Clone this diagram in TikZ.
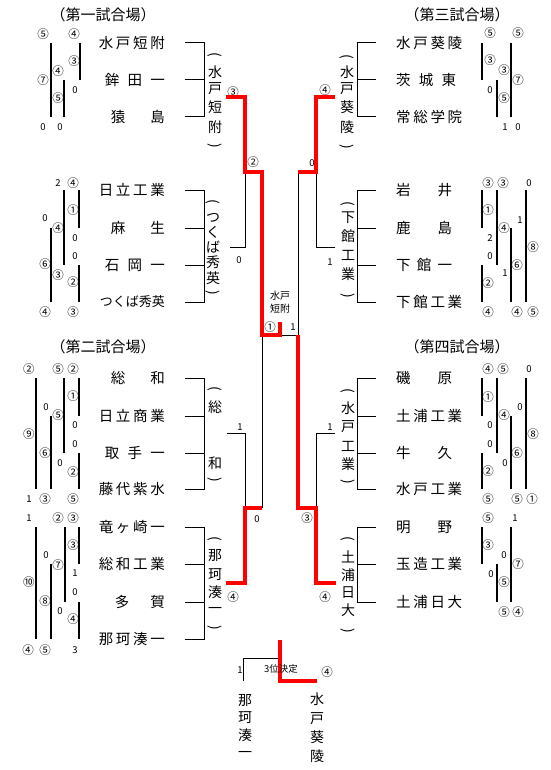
\documentclass[tikz,border=0pt]{standalone}
\usepackage{fontspec}
\setmainfont{Noto Sans CJK JP}
\usetikzlibrary{positioning, calc}

\newcommand\spreadname[2][66pt]{\makebox[#1][s]{\spreadloop#2\relax}}
\def\spreadloop#1#2{#1\ifx\relax#2\else\hfill\expandafter\spreadloop\expandafter#2\fi}

\begin{document}
\begin{tikzpicture}[x=1pt, y=-1pt,
  lteam/.style={anchor=east, inner sep=0pt, font=\fontsize{14.5}{15}\selectfont},
  rteam/.style={anchor=west, inner sep=0pt, font=\fontsize{14.5}{15}\selectfont},
  venue/.style={inner sep=0pt, font=\fontsize{15}{16}\selectfont},
  vchar/.style={inner sep=0pt, font=\fontsize{14}{14}\selectfont},
  vparen/.style={inner sep=0pt, rotate=-90, font=\fontsize{14}{14}\selectfont},
  circ/.style={inner sep=0pt, font=\fontsize{11.5}{12}\selectfont},
  pts/.style={inner sep=0pt, font=\fontsize{9.5}{10}\selectfont},
  brk/.style={line width=1pt},
  sline/.style={line width=1.2pt},
  win/.style={draw=red, line width=3.5pt}
]
\useasboundingbox (0,0) rectangle (550,770);

% venues
\node[venue] (v1) at (103,15) {（第一試合場）};
\node[venue] (v3) at (457,15) {（第三試合場）};
\node[venue] (v2) at (103,347) {（第二試合場）};
\node[venue] (v4) at (457,347) {（第四試合場）};

% teams, left side
\node[lteam] (a1) at (165,43) {\spreadname{水戸短附}};
\node[lteam] (a2) at (165,80) {\spreadname[60pt]{鉾田一}};
\node[lteam] (a3) at (165,117) {\spreadname[54pt]{猿島}};
\node[lteam] (b1) at (165,190) {\spreadname{日立工業}};
\node[lteam] (b2) at (165,228) {\spreadname[54pt]{麻生}};
\node[lteam] (b3) at (165,265) {\spreadname[60pt]{石岡一}};
\node[lteam, font=\fontsize{13}{13}\selectfont] (b4) at (165,302) {つくば秀英};
\node[lteam] (e1) at (165,378) {\spreadname[54pt]{総和}};
\node[lteam] (e2) at (165,416) {\spreadname{日立商業}};
\node[lteam] (e3) at (165,453) {\spreadname[60pt]{取手一}};
\node[lteam] (e4) at (165,489) {\spreadname{藤代紫水}};
\node[lteam] (f1) at (165,527) {\spreadname{竜ヶ崎一}};
\node[lteam] (f2) at (165,564) {\spreadname{総和工業}};
\node[lteam] (f3) at (165,602) {\spreadname[50pt]{多賀}};
\node[lteam] (f4) at (165,639) {\spreadname{那珂湊一}};

% teams, right side
\node[rteam] (c1) at (396,43) {\spreadname{水戸葵陵}};
\node[rteam] (c2) at (396,80) {\spreadname[60pt]{茨城東}};
\node[rteam] (c3) at (396,117) {\spreadname{常総学院}};
\node[rteam] (d1) at (396,190) {\spreadname[56pt]{岩井}};
\node[rteam] (d2) at (396,228) {\spreadname[56pt]{鹿島}};
\node[rteam] (d3) at (396,265) {\spreadname[56pt]{下館一}};
\node[rteam] (d4) at (396,302) {\spreadname{下館工業}};
\node[rteam] (g1) at (396,378) {\spreadname[56pt]{磯原}};
\node[rteam] (g2) at (396,416) {\spreadname{土浦工業}};
\node[rteam] (g3) at (396,453) {\spreadname[56pt]{牛久}};
\node[rteam] (g4) at (396,489) {\spreadname{水戸工業}};
\node[rteam] (h1) at (396,527) {\spreadname[56pt]{明野}};
\node[rteam] (h2) at (396,564) {\spreadname{玉造工業}};
\node[rteam] (h3) at (396,602) {\spreadname{土浦日大}};

% block brackets
\draw[brk] ([xshift=20pt]a1.east) -| ([xshift=39pt]a3.east) -- ([xshift=20pt]a3.east);
\draw[brk] ([xshift=20pt]a2.east) -- ([xshift=39pt]a2.east);
\draw[brk] ([xshift=20pt]b1.east) -| ([xshift=39pt]b4.east) -- ([xshift=20pt]b4.east);
\draw[brk] ([xshift=20pt]b2.east) -- ([xshift=39pt]b2.east);
\draw[brk] ([xshift=20pt]b3.east) -- ([xshift=39pt]b3.east);
\draw[brk] ([xshift=20pt]e1.east) -| ([xshift=39pt]e4.east) -- ([xshift=20pt]e4.east);
\draw[brk] ([xshift=20pt]e2.east) -- ([xshift=39pt]e2.east);
\draw[brk] ([xshift=20pt]e3.east) -- ([xshift=39pt]e3.east);
\draw[brk] ([xshift=20pt]f1.east) -| ([xshift=39pt]f4.east) -- ([xshift=20pt]f4.east);
\draw[brk] ([xshift=20pt]f2.east) -- ([xshift=39pt]f2.east);
\draw[brk] ([xshift=20pt]f3.east) -- ([xshift=39pt]f3.east);
\draw[brk] ([xshift=-20pt]c1.west) -| ([xshift=-39pt]c3.west) -- ([xshift=-20pt]c3.west);
\draw[brk] ([xshift=-20pt]c2.west) -- ([xshift=-39pt]c2.west);
\draw[brk] ([xshift=-20pt]d1.west) -| ([xshift=-39pt]d4.west) -- ([xshift=-20pt]d4.west);
\draw[brk] ([xshift=-20pt]d2.west) -- ([xshift=-39pt]d2.west);
\draw[brk] ([xshift=-20pt]d3.west) -- ([xshift=-39pt]d3.west);
\draw[brk] ([xshift=-20pt]g1.west) -| ([xshift=-39pt]g4.west) -- ([xshift=-20pt]g4.west);
\draw[brk] ([xshift=-20pt]g2.west) -- ([xshift=-39pt]g2.west);
\draw[brk] ([xshift=-20pt]g3.west) -- ([xshift=-39pt]g3.west);
\draw[brk] ([xshift=-20pt]h1.west) -| ([xshift=-39pt]h3.west) -- ([xshift=-20pt]h3.west);
\draw[brk] ([xshift=-20pt]h2.west) -- ([xshift=-39pt]h2.west);

% block winners, written downwards
\foreach \x/\y/\s [count=\i] in {215/72/水, 215/89/戸, 215/107/短, 215/127/附,
    213/218/つ, 213/232/く, 213/247/ば, 213/262/秀, 213/278/英,
    215/407/総, 215/463/和,
    215/556/那, 215/575/珂, 215/592/湊, 215/610/一,
    347/72/水, 347/89/戸, 347/107/葵, 347/127/陵,
    348/218/下, 348/236/館, 348/255/工, 348/274/業,
    348/408/水, 348/427/戸, 348/446/工, 348/464/業,
    348/557/土, 348/575/浦, 348/593/日, 348/610/大}
  \node[vchar] (vl\i) at (\x,\y) {\s};
\foreach \x/\y/\s [count=\i] in {215/55/(, 215/146/), 213/202/(, 213/293/), 215/389/(, 215/480/),
    215/539/(, 215/628/), 347/57/(, 347/147/), 348/204/(, 348/296/), 348/391/(, 348/482/),
    348/539/(, 348/631/)}
  \node[vparen] (vp\i) at (\x,\y) {\s};

% score lines of the blocks
\foreach \x/\ya/\yb in {51/43/117, 64/80/117, 80/43/80,
    79/190/228, 79/265/302, 64/190/265, 51/228/302,
    79/378/416, 79/453/489, 64/378/453, 51/416/489, 36/378/489,
    79/527/564, 79/602/639, 65/527/602, 51/564/639, 36/527/639,
    482/43/80, 497/80/117, 511/43/117,
    482/190/228, 482/265/302, 497/190/265, 511/228/302, 526/190/302,
    482/378/416, 482/453/489, 497/378/453, 511/416/489, 526/378/489,
    482/527/564, 497/564/602, 511/527/602}
  \draw[sline] (\x,\ya) -- (\x,\yb);

% circled scores
\foreach \x/\y/\s [count=\i] in {43/34/⑤, 74/34/④, 74/61/③, 58/71/④, 43/80/⑦, 58/98/⑤,
    73/183/④, 73/210/①, 58/228/④, 45/264/⑥, 58/275/③, 73/282/②, 45/312/④, 73/312/③,
    29/369/②, 58/369/⑤, 73/369/②, 73/396/①, 58/415/⑤, 29/434/⑨, 45/453/⑥, 73/472/②, 45/499/③, 73/499/⑤,
    58/518/②, 73/518/③, 73/545/③, 58/565/⑦, 29/582/⑩, 45/601/⑧, 73/619/④, 28/650/④, 45/650/⑤,
    490/33/⑤, 518/33/⑤, 490/60/③, 504/70/③, 518/80/⑦, 504/98/⑤,
    488/183/③, 503/183/③, 488/210/①, 504/228/④, 533/247/⑧, 517/265/⑥, 488/283/②, 488/312/④, 517/312/④, 533/312/⑤,
    488/369/④, 503/369/⑤, 488/397/①, 504/415/④, 533/434/⑧, 517/453/⑥, 488/471/②, 488/499/⑤, 517/499/⑤, 532/499/①,
    488/518/⑤, 488/545/③, 518/564/⑦, 504/582/⑤, 504/612/⑤, 518/612/④,
    233/92/③, 253/162/②, 233/597/④, 325/90/④, 307/518/③, 325/597/④, 270/327/①, 327/672/④}
  \node[circ] (cs\i) at (\x,\y) {\s};

% plain scores
\foreach \x/\y/\s [count=\i] in {75/90/0, 43/127/0, 60/127/0,
    58/183/2, 45/218/0, 75/238/0, 75/256/0,
    46/407/0, 75/425/0, 75/444/0, 60/463/0, 29/499/1,
    29/518/1, 46/555/0, 75/573/1, 75/592/0, 60/611/0, 75/650/3,
    490/90/0, 505/127/1, 518/127/0,
    529/183/0, 520/220/1, 490/238/2, 490/256/0, 505/273/1,
    529/369/0, 520/407/0, 490/425/0, 490/444/0, 505/463/0,
    515/518/1, 504/555/0, 491/574/0,
    239/260/0, 240/427/1, 257/519/0, 312/163/0, 330/262/1, 330/427/1, 293/327/1, 240/670/1}
  \node[pts] (ps\i) at (\x,\y) {\s};

% final rounds
\coordinate (w1) at (226,97);
\coordinate (w2) at (230,247);
\coordinate (w3) at (227,433);
\coordinate (w4) at (226,583);
\coordinate (w5) at (335,97);
\coordinate (w6) at (335,247);
\coordinate (w7) at (335,433);
\coordinate (w8) at (336,583);
\coordinate (q1) at (245,172);
\coordinate (q2) at (245,508);
\coordinate (q3) at (316,172);
\coordinate (q4) at (316,508);
\coordinate (s1) at (262,172);
\coordinate (s2) at (262,508);
\coordinate (s3) at (298,172);
\coordinate (s4) at (298,508);
\coordinate (sfl) at (262,335);
\coordinate (sfr) at (298,335);
\coordinate (fin) at (280,335);
\coordinate (top) at (280,322);

\draw[brk] (w2) -| (q1);
\draw[brk] (w3) -| (q2);
\draw[brk] (s2) -- (sfl);
\draw[brk] (w6) -| (q3);
\draw[brk] (s3) -- (sfr) -- (fin);
\draw[brk] (w7) -| (q4);
\draw[win] (w1) -| (q1) -- (s1) -- (sfl) -- (fin) -- (top);
\draw[win] (w4) -| (q2) -- (s2);
\draw[win] (w5) -| (q3) -- (s3);
\draw[win] (w8) -| (q4) -- (s4) -- (sfr);

\node[align=center, inner sep=0pt, font=\fontsize{10}{13}\selectfont] (champ) at (280,302) {水戸\\短附};

% third place
\coordinate (t1) at (243,681);
\coordinate (t2) at (280,658);
\coordinate (t3) at (280,640);
\coordinate (t4) at (317,681);
\draw[brk] (t1) |- (t2);
\draw[win] (t3) |- (t4);
\node[inner sep=0pt, font=\fontsize{9.5}{10}\selectfont] (third) at (281,669) {3位決定};
\node[align=center, inner sep=0pt, font=\fontsize{14}{17.5}\selectfont] (l3) at (245,726) {那\\珂\\湊\\一};
\node[align=center, inner sep=0pt, font=\fontsize{14}{19}\selectfont] (w3rd) at (317,728) {水\\戸\\葵\\陵};
\end{tikzpicture}
\end{document}
